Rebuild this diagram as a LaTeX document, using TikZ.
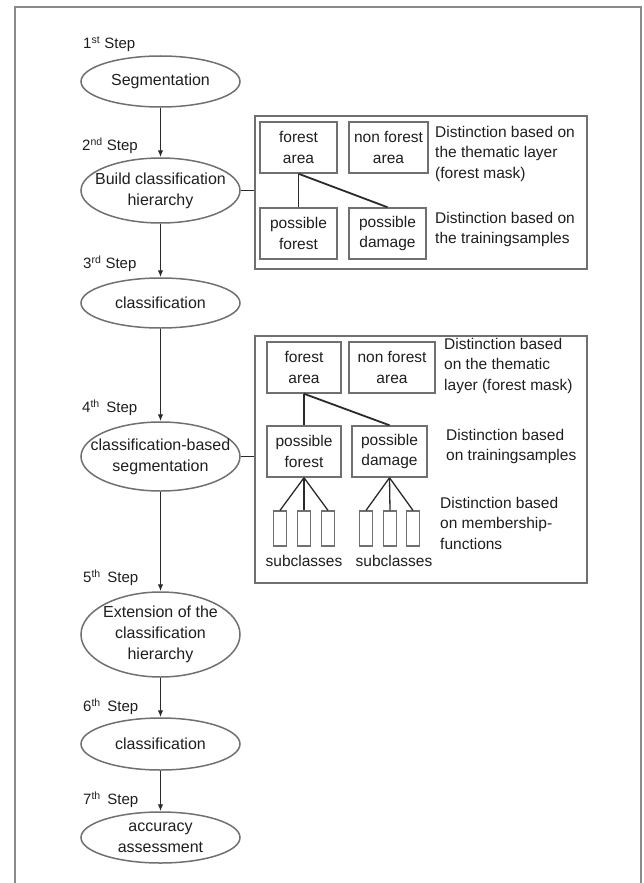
\documentclass[tikz,border=0pt]{standalone}
\usepackage{fontspec}
\setmainfont{Liberation Sans}
\usetikzlibrary{shapes.geometric,arrows.meta}
\definecolor{framegray}{HTML}{8A8A8A}
\definecolor{boxgray}{HTML}{707070}
\definecolor{linedark}{HTML}{2A2A2A}
\definecolor{textdark}{HTML}{1E1E1E}
\tikzset{
  stepell/.style={ellipse, draw=boxgray, line width=1.5pt, minimum width=159pt, inner xsep=-25pt, inner ysep=-8pt,
    align=center, text=textdark, font=\fontsize{16}{21}\selectfont},
  steplabel/.style={anchor=base west, inner sep=0pt, text=textdark, font=\fontsize{15}{17}\selectfont},
  flowarrow/.style={draw=linedark, line width=1.8pt, -{Latex[length=7pt,width=5.5pt]}},
  groupbox/.style={rectangle, draw=boxgray, line width=1.5pt, inner sep=0pt},
  classbox/.style={rectangle, draw=boxgray, line width=1.5pt, inner sep=0pt, align=center,
    text=textdark, font=\fontsize{15.5}{20.5}\selectfont},
  subbox/.style={rectangle, draw=boxgray, line width=1.2pt, inner sep=0pt, minimum width=13pt, minimum height=35pt},
  note/.style={anchor=north west, inner sep=0pt, align=left, text=textdark, font=\fontsize{15.5}{20.5}\selectfont},
  link/.style={draw=linedark, line width=1.8pt},
  thinlink/.style={draw=linedark, line width=1.3pt},
}
\begin{document}
\begin{tikzpicture}[x=1pt,y=-1pt]
\useasboundingbox (0,0) rectangle (643,883);
% outer frame (open at bottom)
\draw[framegray, line width=1.6pt] (15,883) -- (15,7) -- (641,7) -- (641,883);

% step labels
\node[steplabel] (l1) at (83,48.5) {1\textsuperscript{st} Step};
\node[steplabel] (l2) at (82,150.5) {2\textsuperscript{nd} Step};
\node[steplabel] (l3) at (83,268.5) {3\textsuperscript{rd} Step};
\node[steplabel] (l4) at (82,412.5) {4\textsuperscript{th}\, Step};
\node[steplabel] (l5) at (83,582.5) {5\textsuperscript{th}\, Step};
\node[steplabel] (l6) at (83,711.5) {6\textsuperscript{th}\, Step};
\node[steplabel] (l7) at (83,804.5) {7\textsuperscript{th}\, Step};

% ellipses
\node[stepell, minimum height=51pt] (e1) at (160.5,81.5) {Segmentation};
\node[stepell, minimum height=65pt] (e2) at (160.5,190.5) {Build classification\\hierarchy};
\node[stepell, minimum height=50pt] (e3) at (160.5,303) {classification};
\node[stepell, minimum height=69pt] (e4) at (160.5,456.5) {classification-based\\segmentation};
\node[stepell, minimum height=85pt] (e5) at (160.5,634.5) {Extension of the\\classification\\hierarchy};
\node[stepell, minimum height=52pt] (e6) at (160.5,744) {classification};
\node[stepell, minimum height=51pt] (e7) at (160.5,837.5) {accuracy\\assessment};

\draw[flowarrow] (e1) -- (e2);
\draw[flowarrow] (e2) -- (e3);
\draw[flowarrow] (e3) -- (e4);
\draw[flowarrow] (e4) -- (e5);
\draw[flowarrow] (e5) -- (e6);
\draw[flowarrow] (e6) -- (e7);

% ---- group box 1 ----
\node[groupbox, minimum width=332pt, minimum height=153pt] (g1) at (421,192.5) {};
\draw[link] (e2.east) -- (e2.east -| g1.west);
\node[classbox, minimum width=77pt, minimum height=51pt] (fa1) at (298.5,147.5) {forest\\area};
\node[classbox, minimum width=79pt, minimum height=51pt] (nf1) at (388.5,147.5) {non forest\\area};
\node[classbox, minimum width=77pt, minimum height=51pt] (pf1) at (298.5,233.5) {possible\\forest};
\node[classbox, minimum width=77pt, minimum height=51pt] (pd1) at (387.5,233.5) {possible\\damage};
\draw[link] (fa1.south) -- (pf1.north);
\draw[link] (fa1.south) -- (pd1.north);
\node[note] (n1a) at (435,126) {Distinction based on\\the thematic layer\\(forest mask)};
\node[note] (n1b) at (435,212) {Distinction based on\\the trainingsamples};

% ---- group box 2 ----
\node[groupbox, minimum width=332pt, minimum height=247pt] (g2) at (421,459.5) {};
\draw[link] (e4.east) -- (e4.east -| g2.west);
\node[classbox, minimum width=74pt, minimum height=51pt] (fa2) at (304,367.5) {forest\\area};
\node[classbox, minimum width=86pt, minimum height=51pt] (nf2) at (392,367.5) {non forest\\area};
\node[classbox, minimum width=74pt, minimum height=51pt] (pf2) at (304,451.5) {possible\\forest};
\node[classbox, minimum width=75pt, minimum height=51pt] (pd2) at (389.5,451.5) {possible\\damage};
\draw[link] (fa2.south) -- (pf2.north);
\draw[link] (fa2.south) -- (pd2.north);
\node[note] (n2a) at (444,338) {Distinction based\\on the thematic\\layer (forest mask)};
\node[note] (n2b) at (446,429) {Distinction based\\on trainingsamples};
\node[note] (n2c) at (440,497) {Distinction based\\on membership-\\functions};

% subclasses
\node[subbox] (sa1) at (280,528.5) {};
\node[subbox] (sa2) at (304,528.5) {};
\node[subbox] (sa3) at (328,528.5) {};
\node[subbox] (sb1) at (366,528.5) {};
\node[subbox] (sb2) at (390,528.5) {};
\node[subbox] (sb3) at (413,528.5) {};
\draw[thinlink] (pf2.south) -- (sa1.north);
\draw[thinlink] (pf2.south) -- (sa2.north);
\draw[thinlink] (pf2.south) -- (sa3.north);
\draw[thinlink] (pd2.south) -- (sb1.north);
\draw[thinlink] (pd2.south) -- (sb2.north);
\draw[thinlink] (pd2.south) -- (sb3.north);
\node[classbox, draw=none] (sca) at (304,561) {subclasses};
\node[classbox, draw=none] (scb) at (394,561) {subclasses};
\end{tikzpicture}
\end{document}
